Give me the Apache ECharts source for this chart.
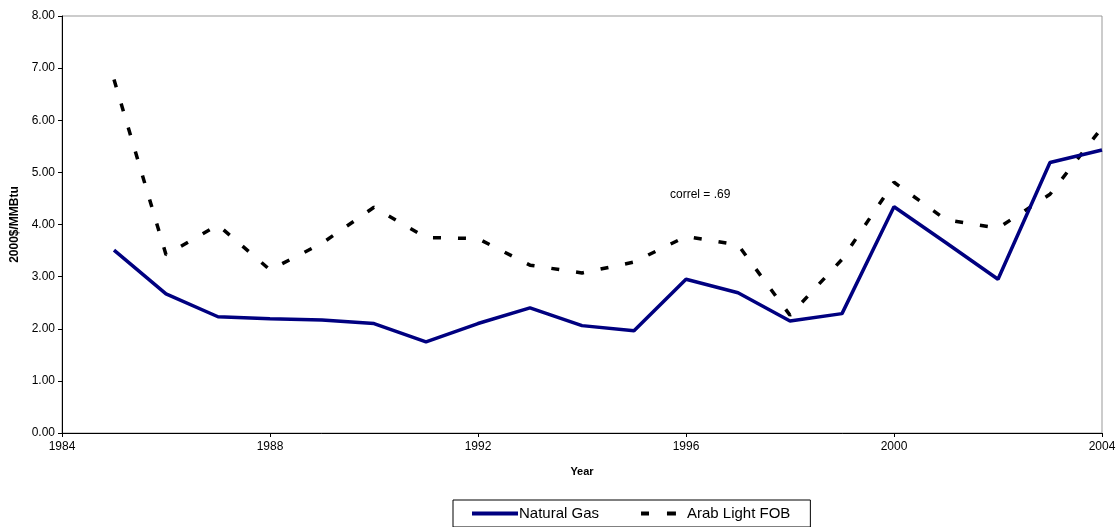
<!DOCTYPE html>
<html>
<head>
<meta charset="utf-8">
<script src="https://cdn.jsdelivr.net/npm/echarts@6/dist/echarts.min.js"></script>
<style>html,body{margin:0;padding:0;background:#fff}#c{width:1120px;height:527px}</style>
</head>
<body>
<div id="c"></div>
<script>
const years = [1985,1986,1987,1988,1989,1990,1991,1992,1993,1994,1995,1996,1997,1998,1999,2000,2001,2002,2003,2004];
const naturalGas = [3.51,2.67,2.23,2.19,2.17,2.10,1.75,2.10,2.40,2.06,1.96,2.95,2.69,2.15,2.29,4.34,3.65,2.95,5.19,5.43];
const arabLight = [6.78,3.42,3.99,3.13,3.64,4.33,3.75,3.73,3.22,3.07,3.28,3.77,3.61,2.26,3.33,4.81,4.09,3.93,4.58,5.86];
const yTicks = [0,1,2,3,4,5,6,7,8];
const xTicks = [1984,1988,1992,1996,2000,2004];

const chart = echarts.init(document.getElementById('c'), null, {renderer:'canvas'});
const font = 'Liberation Sans, Arial, sans-serif';
chart.setOption({
  animation:false,
  backgroundColor:'#fff',
  textStyle:{fontFamily:font},
  grid:{left:62,right:18,top:16,bottom:94,show:true,borderColor:'#999',borderWidth:1,backgroundColor:'transparent'},
  xAxis:{
    type:'value',min:xTicks[0],max:xTicks[xTicks.length-1],interval:4,
    name:'Year',nameLocation:'middle',nameGap:33,
    nameTextStyle:{fontWeight:'bold',fontSize:11,color:'#000',fontFamily:font},
    axisLine:{lineStyle:{color:'#000',width:1}},
    axisTick:{show:true,length:4,lineStyle:{color:'#000'}},
    axisLabel:{color:'#000',fontSize:12,margin:8,fontFamily:font,formatter:v=>String(v)},
    splitLine:{show:false}
  },
  yAxis:{
    type:'value',min:yTicks[0],max:yTicks[yTicks.length-1],interval:1,
    name:'2000$/MMBtu',nameLocation:'middle',nameGap:41,
    nameTextStyle:{fontWeight:'bold',fontSize:12,color:'#000',fontFamily:font},
    axisLine:{show:true,lineStyle:{color:'#000',width:1}},
    axisTick:{show:true,length:4,lineStyle:{color:'#000'}},
    axisLabel:{color:'#000',fontSize:12,margin:7,fontFamily:font,formatter:v=>v.toFixed(2)},
    splitLine:{show:false}
  },
  legend:{
    bottom:0,left:453,
    itemWidth:46,itemHeight:4,itemGap:41,
    padding:[6,20,6,19],
    borderColor:'#000',borderWidth:1,
    textStyle:{fontSize:15,color:'#000',fontFamily:font,padding:[0,0,0,-4]},
    data:[
      {name:'Natural Gas',icon:'rect',itemStyle:{color:'#000080'}},
      {name:'Arab Light FOB',icon:'path://M0,0h0.01v0.01h-0.01zM1,0h8v4h-8zM27,0h9v4h-9zM46,4h0.01v0.01h-0.01z',itemStyle:{color:'#000'}}
    ]
  },
  graphic:[{type:'text',left:670,top:189,style:{text:'correl = .69',fontSize:12,fill:'#000',fontFamily:font}}],
  series:[
    {name:'Natural Gas',type:'line',symbol:'none',data:years.map((y,i)=>[y,naturalGas[i]]),
     lineStyle:{color:'#000080',width:3.5},itemStyle:{color:'#000080'},z:3},
    {name:'Arab Light FOB',type:'line',symbol:'none',data:years.map((y,i)=>[y,arabLight[i]]),
     lineStyle:{color:'#000',width:3.5,type:[8,17]},itemStyle:{color:'#000'},z:2}
  ]
});
</script>
</body>
</html>
